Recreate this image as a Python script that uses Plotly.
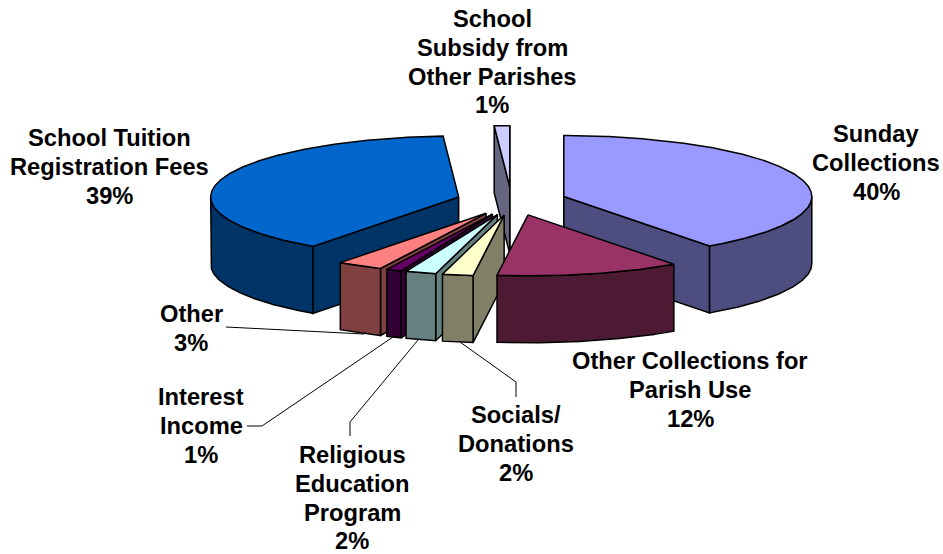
import numpy as np
import plotly.graph_objects as go

categories = ["Sunday Collections", "Other Collections for Parish Use", "Socials/ Donations",
              "Religious Education Program", "Interest Income", "Other",
              "School Tuition Registration Fees", "School Subsidy from Other Parishes"]
shares = [40, 12, 2, 2, 1, 3, 39, 1]
top_colors = ["#9999FF", "#993366", "#FFFFCC", "#CCFFFF", "#660066", "#FF8080", "#0066CC", "#CCCCFF"]
side_colors = ["#4D4D80", "#4D1A33", "#808066", "#668080", "#330033", "#804040", "#003366", "#666680"]
paint_order = [7, 0, 6, 5, 4, 3, 2, 1]

label_lines = [["Sunday", "Collections", "40%"],
               ["Other Collections for", "Parish Use", "12%"],
               ["Socials/", "Donations", "2%"],
               ["Religious", "Education", "Program", "2%"],
               ["Interest", "Income", "1%"],
               ["Other", "3%"],
               ["School Tuition", "Registration Fees", "39%"],
               ["School", "Subsidy from", "Other Parishes", "1%"]]
label_x = [876, 690, 516, 352, 201, 191, 109, 492]
label_y0 = [134, 361, 415, 455, 397, 314, 138, 19]
LINE_STEP = 28.8

leaders = [([226, 364], [327, 334]),
           ([247, 262, 393], [426, 426, 337]),
           ([350, 350, 418], [436, 422, 340]),
           ([516, 516, 460], [397, 382, 342])]

CX, CY = 511.5, 201    # pie centre
RX, RY = 248, 61       # ellipse radii of the top face
DEPTH = 67             # extrusion
EXPLODE, TILT = 55, 0.26
FRONT_SKEW = 3         # front slices sit slightly right of the explosion axis
OUTLINE = 1.5


def rim(ax, ay, a0, a1, drop=0):
    t = np.radians(np.linspace(a0, a1, max(2, int(abs(a1 - a0) * 2) + 2)))
    return ax + RX * np.sin(t), ay - RY * np.cos(t) + drop


fig = go.Figure()


def poly(xs, ys, color):
    fig.add_trace(go.Scatter(x=list(xs), y=list(ys), mode="lines", fill="toself", fillcolor=color,
                             line=dict(color="#000000", width=OUTLINE), hoverinfo="skip", showlegend=False))


edges = np.concatenate([[0], np.cumsum(shares)]) * 360.0 / sum(shares)
for i in paint_order:
    a0, a1 = edges[i], edges[i + 1]
    mid = np.radians((a0 + a1) / 2)
    ax = CX + EXPLODE * np.sin(mid) + FRONT_SKEW * max(0.0, -np.cos(mid))
    ay = CY - EXPLODE * TILT * np.cos(mid)
    # cut faces that look towards the viewer
    for ang, normal in ((a0, a0 - 90), (a1, a1 + 90)):
        if np.cos(np.radians(normal)) < 1e-9:
            ex, ey = rim(ax, ay, ang, ang)
            ex, ey = ex[0], ey[0]
            poly([ax, ex, ex, ax, ax], [ay, ey, ey + DEPTH, ay + DEPTH, ay], side_colors[i])
    # outer wall, front half only
    w0, w1 = max(a0, 90), min(a1, 270)
    if w1 > w0:
        tx, ty = rim(ax, ay, w0, w1)
        bx, by = rim(ax, ay, w0, w1, DEPTH)
        poly(np.r_[tx, bx[::-1], tx[0]], np.r_[ty, by[::-1], ty[0]], side_colors[i])
    # top face
    tx, ty = rim(ax, ay, a0, a1)
    poly(np.r_[ax, tx, ax], np.r_[ay, ty, ay], top_colors[i])

for lx, ly in leaders:
    fig.add_trace(go.Scatter(x=lx, y=ly, mode="lines", line=dict(color="#000000", width=1),
                             hoverinfo="skip", showlegend=False))

for lines, x, y0 in zip(label_lines, label_x, label_y0):
    for n, text in enumerate(lines):
        fig.add_annotation(x=x, y=y0 + n * LINE_STEP, text=f"<b>{text}</b>", showarrow=False, xanchor="center",
                           yanchor="middle", font=dict(family="Liberation Sans", size=23.7, color="#000000"))

fig.update_layout(width=943, height=554, margin=dict(l=0, r=0, t=0, b=0), paper_bgcolor="#FFFFFF",
                  plot_bgcolor="#FFFFFF", showlegend=False,
                  xaxis=dict(range=[0, 943], visible=False, fixedrange=True),
                  yaxis=dict(range=[554, 0], visible=False, fixedrange=True))
fig.write_html("out.html", config=dict(displayModeBar=False),
               post_script="document.body.style.margin='0';document.body.style.overflow='hidden';")
